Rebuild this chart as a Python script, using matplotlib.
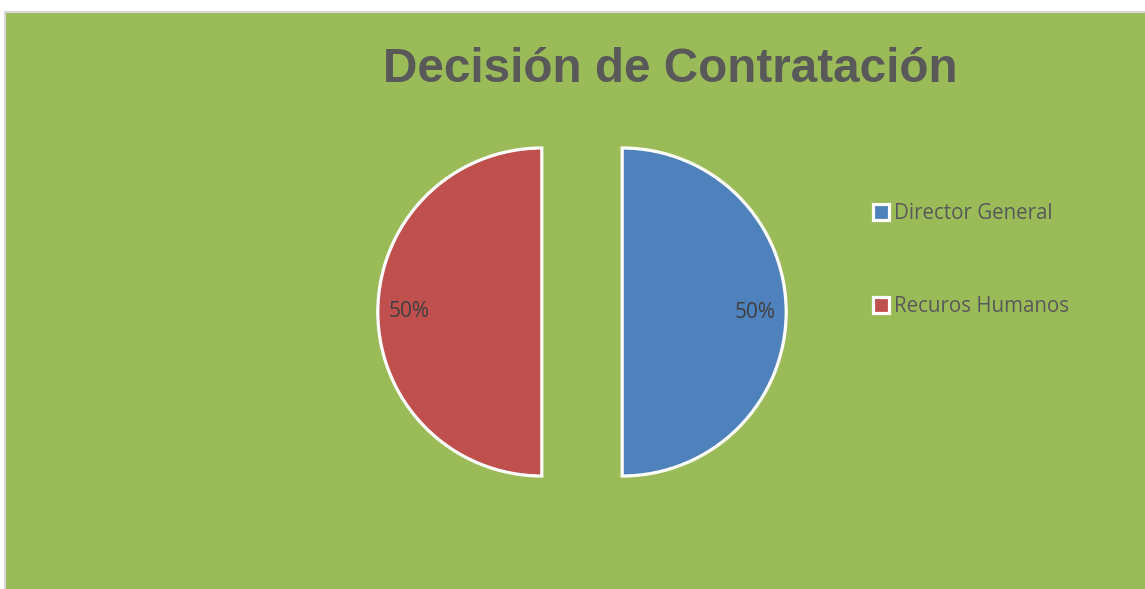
import matplotlib.pyplot as plt
from matplotlib.patches import Rectangle

labels = ["Director General", "Recuros Humanos"]
values = [50, 50]
colors = ["#4F81BD", "#C0504D"]
title = "Decisión de Contratación"

W, H = 1145, 589
fig = plt.figure(figsize=(W / 100, H / 100), dpi=100)
fig.patch.set_facecolor("white")

# green chart area with thin grey border on the left/top
fig.patches.append(Rectangle((5 / W, -0.01), 1.0, 1 - 12 / H + 0.01,
                             transform=fig.transFigure, facecolor="#9BBB59",
                             edgecolor="#D9D9D9", linewidth=1.5, zorder=-5))

# pie axes: center (582, 312) px, radius ~164 px
r = 164
cx, cy = 582, H - 312
ax = fig.add_axes([(cx - 1.5 * r) / W, (cy - 1.5 * r) / H, 3 * r / W, 3 * r / H])
ax.set_zorder(2)
ax.patch.set_visible(False)
ax.axis("off")

wedges, texts, autotexts = ax.pie(
    values, colors=colors, startangle=90, counterclock=False,
    explode=[0.245, 0.245], autopct="%1.0f%%", pctdistance=0.81,
    wedgeprops=dict(edgecolor="white", linewidth=2.3),
    textprops=dict(color="#404040", fontsize=15, family="Open Sans"),
)
ax.set_xlim(-1.5, 1.5)
ax.set_ylim(-1.5, 1.5)

fig.text(670 / W, 1 - 69 / H, title, ha="center", va="center",
         fontsize=34.3, fontweight="bold", color="#595959",
         family="Liberation Sans", zorder=3)

leg = fig.legend(wedges, labels, loc="upper left",
                 bbox_to_anchor=(854 / W, 1 - 185 / H),
                 frameon=False, handlelength=0.8, handleheight=0.8,
                 handletextpad=0.25, labelspacing=3.5,
                 prop=dict(family="Open Sans", size=14.8))
leg.set_zorder(3)
for t in leg.get_texts():
    t.set_color("#595959")

fig.savefig("out.png", dpi=100)
